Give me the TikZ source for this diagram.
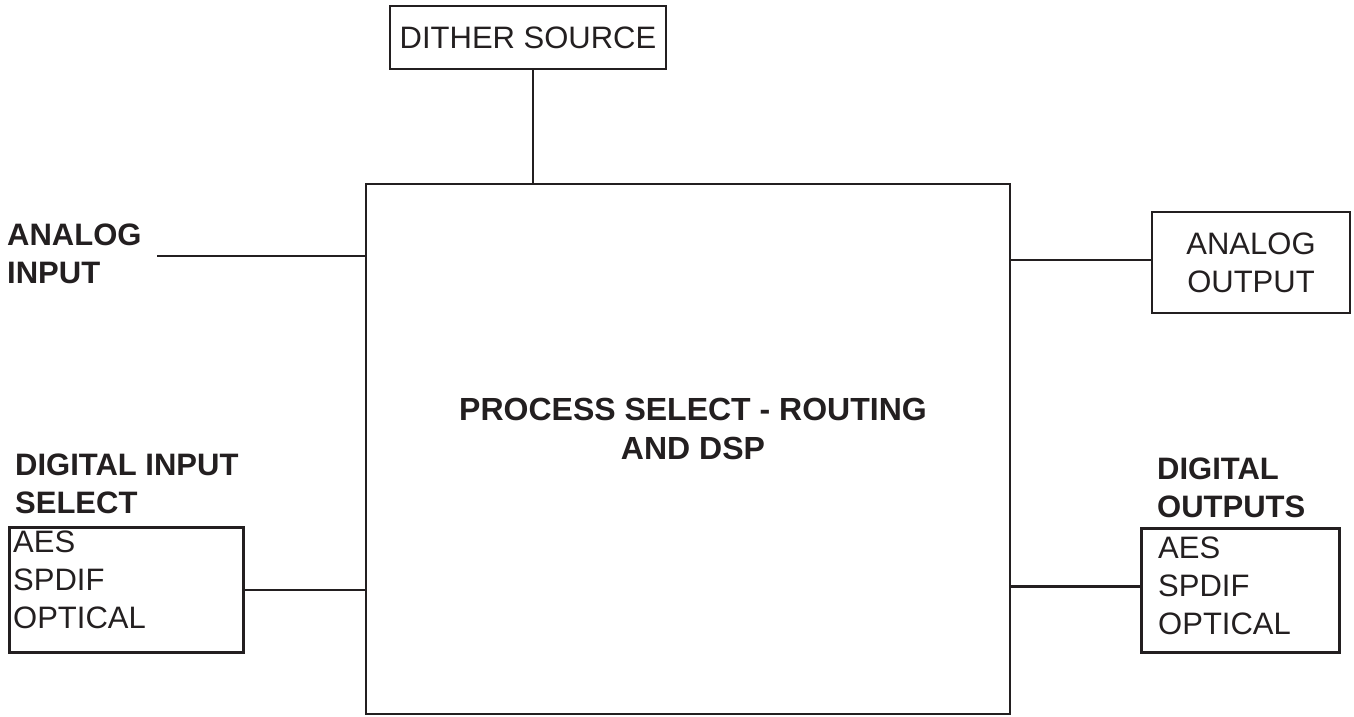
\documentclass[tikz,border=0pt]{standalone}
\usepackage{fontspec}
\setmainfont{Liberation Sans}
\definecolor{ink}{HTML}{231F20}
\begin{document}
\begin{tikzpicture}[x=1pt,y=-1pt,
  ink/.style={draw=ink, line width=2.5pt},
  box/.style={ink, rectangle, inner sep=0pt, text=ink},
  txt/.style={inner sep=0pt, text=ink, font=\fontsize{31}{38}\selectfont, align=left},
  btxt/.style={txt, font=\fontsize{31}{38}\selectfont\bfseries},
  wire/.style={ink}]
\useasboundingbox (0,0) rectangle (1354,716);
% main block
\node[box, minimum width=644pt, minimum height=530pt] (main) at (688,449) {};
\node[btxt, align=center, font=\fontsize{32}{39}\selectfont\bfseries] (proc) at (693,429) {PROCESS SELECT - ROUTING\\AND DSP};
% dither source
\node[box, minimum width=276pt, minimum height=63pt, font=\fontsize{31}{38}\selectfont] (dither) at (528,37.5) {DITHER SOURCE};
\draw[wire] ([xshift=5pt]dither.south) -- ([xshift=5pt]dither.south |- main.north);
% analog input
\node[btxt, anchor=north west] (ain) at (7,224) {ANALOG\\INPUT};
\coordinate (ainend) at (157,256);
\draw[wire] (ainend) -- (ainend -| main.west);
% analog output
\node[box, minimum width=198pt, minimum height=101pt, align=center, font=\fontsize{31}{38}\selectfont] (aout) at (1251,262.5) {ANALOG\\OUTPUT};
\draw[wire] ([yshift=2.5pt]aout.west) -- ([yshift=2.5pt]aout.west -| main.east);
% digital input
\node[btxt, anchor=north west] (dinlbl) at (15,454) {DIGITAL INPUT\\SELECT};
\node[box, minimum width=234pt, minimum height=125pt, anchor=north west] (din) at (8,526) {};
\node[txt, anchor=north west] (dintxt) at (13,531) {AES\\SPDIF\\OPTICAL};
\draw[wire] (din.east) -- (din.east -| main.west);
% digital outputs
\node[btxt, anchor=north west] (doutlbl) at (1157,458) {DIGITAL\\OUTPUTS};
\node[box, minimum width=198pt, minimum height=124pt, anchor=north west] (dout) at (1140,527) {};
\node[txt, anchor=north west] (douttxt) at (1158,537) {AES\\SPDIF\\OPTICAL};
\draw[wire] ([yshift=4pt]dout.west) -- ([yshift=4pt]dout.west -| main.east);
\end{tikzpicture}
\end{document}
